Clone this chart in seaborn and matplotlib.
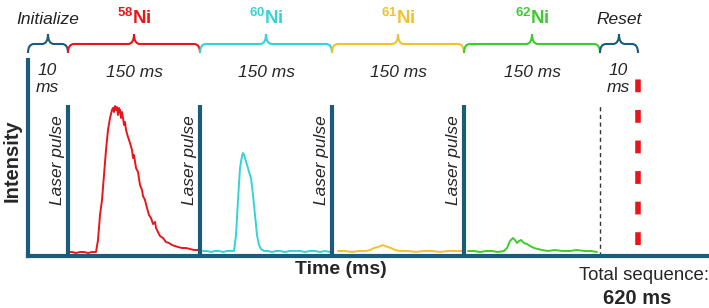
#! /usr/bin/python3
# -*- coding:utf-8 -*-
"""
Schematic of the laser-pulse measurement sequence for Ni isotopes.
"""
import matplotlib
matplotlib.use('Agg')
import matplotlib.pyplot as plt
from matplotlib.path import Path
from matplotlib.patches import PathPatch
import seaborn as sns

# segment edges along the (schematic) time axis
seg_edges = [0, 40, 172, 304, 436, 572, 610]
seg_titles = ['Initialize', r'$\mathbf{^{58}Ni}$', r'$\mathbf{^{60}Ni}$',
              r'$\mathbf{^{61}Ni}$', r'$\mathbf{^{62}Ni}$', 'Reset']
seg_durations = ['10\nms', '150 ms', '150 ms', '150 ms', '150 ms', '10\nms']
seg_colors = ['#1d5b7a', '#e8161b', '#33d3d6', '#f2c22c', '#3dcc2e', '#1d5b7a']

laser_pulses = [40, 172, 304, 436]
laser_top = 151
end_marker = 572
reset_marker = 610

# signal traces (intensity vs. time, schematic units)
ni58_t = [40, 44, 48, 52, 56, 60, 64, 68, 70, 72, 74, 76, 78, 80, 82, 84, 85, 86, 87, 88,
          89, 90, 91, 92, 93, 94, 95, 96, 97, 98, 100, 102, 104, 105, 106, 108, 110, 112, 114,
          115, 117, 119, 121, 123, 125, 127, 128, 130, 132, 135, 138, 141, 144, 147, 150, 154,
          158, 162, 166, 170]
ni58_i = [4, 4, 3, 4, 4, 3, 4, 4, 16, 41, 56, 81, 106, 126, 138, 146, 148, 144, 150, 146,
          149, 141, 148, 146, 138, 144, 138, 131, 134, 126, 119, 113, 106, 98, 101, 88, 84, 71,
          66, 60, 56, 48, 41, 38, 32, 34, 28, 24, 20, 18, 14, 13, 11, 10, 9, 8, 8, 7, 6, 6]

ni60_t = [175, 179, 183, 187, 191, 195, 199, 203, 206, 208, 210, 212, 214, 215, 216, 217,
          219, 220, 221, 223, 225, 227, 229, 231, 233, 236, 240, 244, 248, 252, 257, 262, 267,
          272, 277, 282, 287, 292, 297, 302]
ni60_i = [5, 5, 4, 5, 5, 4, 5, 5, 5, 21, 56, 88, 100, 103, 101, 98, 91, 88, 84, 78, 61, 41,
          21, 11, 7, 5, 5, 4, 5, 5, 4, 5, 5, 5, 4, 5, 5, 4, 5, 4]

ni61_t = [310, 317, 324, 331, 338, 342, 346, 350, 353, 355, 357, 360, 363, 367, 372, 380,
          388, 396, 404, 412, 420, 428, 435]
ni61_i = [5, 5, 4, 5, 5, 6, 8, 9, 10, 11, 10, 9, 8, 6, 5, 5, 4, 5, 5, 4, 5, 5, 5]

ni62_t = [440, 446, 452, 458, 464, 470, 476, 479, 482, 485, 487, 489, 491, 493, 496, 499,
          502, 506, 510, 514, 520, 527, 534, 542, 549, 556, 563, 569]
ni62_i = [5, 5, 4, 5, 5, 4, 5, 8, 15, 18, 16, 13, 15, 16, 13, 12, 10, 8, 7, 6, 5, 6, 5, 5,
          6, 5, 5, 4]

traces = [(ni58_t, ni58_i, seg_colors[1]), (ni60_t, ni60_i, seg_colors[2]),
          (ni61_t, ni61_i, seg_colors[3]), (ni62_t, ni62_i, seg_colors[4])]

sns.set_style('white')
plt.rcParams['font.family'] = ['Liberation Sans', 'DejaVu Sans']
plt.rcParams['mathtext.fontset'] = 'custom'
plt.rcParams['mathtext.bf'] = 'Liberation Sans:bold'
plt.rcParams['mathtext.rm'] = 'Liberation Sans'

fig = plt.figure(figsize=(7.09, 3.08), dpi=100)
ax = fig.add_axes([28 / 709, 52 / 308, 681 / 709, 196 / 308])
ax.set_xlim(0, 681)
ax.set_ylim(0, 196)
axis_col = seg_colors[0]

for t, i, c in traces:
    sns.lineplot(x=t, y=i, color=c, lw=1.4, ax=ax, estimator=None, sort=False)

# laser pulse markers
for x in laser_pulses:
    ax.plot([x, x], [0, laser_top], color=axis_col, lw=3, solid_capstyle='butt')
    ax.text(x - 3, 96, 'Laser pulse', rotation=90, ha='right', va='center',
            fontsize=12.5, style='italic')

ax.plot([end_marker, end_marker], [0, 152], color='#333333', lw=1, ls=(0, (3, 2.5)))
ax.plot([reset_marker, reset_marker], [11, 186], color='#e8161b', lw=4,
        ls=(0, (2.3, 3.2)), solid_capstyle='butt')


def brace(x0, x1, color):
    yb, ym, yt, r = 203, 212, 222, 6
    xc = (x0 + x1) / 2
    verts = [(x0, yb), (x0, ym), (x0 + r, ym),
             (xc - r, ym),
             (xc, ym), (xc, yt),
             (xc, ym), (xc + r, ym),
             (x1 - r, ym),
             (x1, ym), (x1, yb)]
    codes = [Path.MOVETO, Path.CURVE3, Path.CURVE3, Path.LINETO, Path.CURVE3, Path.CURVE3,
             Path.CURVE3, Path.CURVE3, Path.LINETO, Path.CURVE3, Path.CURVE3]
    ax.add_patch(PathPatch(Path(verts, codes), fill=False, ec=color, lw=1.5, clip_on=False))


for k in range(len(seg_titles)):
    x0, x1 = seg_edges[k], seg_edges[k + 1]
    xc = (x0 + x1) / 2
    brace(x0, x1, seg_colors[k])
    if k in (0, 5):
        ax.text(xc, 236, seg_titles[k], ha='center', va='center', fontsize=12.5,
                style='italic', color='#222222')
        ax.text(xc - 1, 177, seg_durations[k], ha='center', va='center', fontsize=12.5,
                style='italic', linespacing=1.15)
    else:
        ax.text(xc, 238, seg_titles[k], ha='center', va='center', fontsize=13.5,
                color=seg_colors[k])
        ax.text(xc, 184, seg_durations[k], ha='center', va='center', fontsize=12.5,
                style='italic')

ax.text(-16, 95, 'Intensity', rotation=90, ha='center', va='center', fontsize=14.5,
        fontweight='bold')
ax.text(313, -13, 'Time (ms)', ha='center', va='center', fontsize=14, fontweight='bold')
ax.text(681, -19, 'Total sequence:', ha='right', va='center', fontsize=13.4)
ax.text(609, -42, '620 ms', ha='center', va='center', fontsize=14.5, fontweight='bold')

sns.despine(ax=ax)
for side in ['left', 'bottom']:
    ax.spines[side].set_color(axis_col)
    ax.spines[side].set_linewidth(3)
ax.set_xticks([])
ax.set_yticks([])
ax.set_xlabel('')
ax.set_ylabel('')

fig.savefig('out.png', dpi=100)
